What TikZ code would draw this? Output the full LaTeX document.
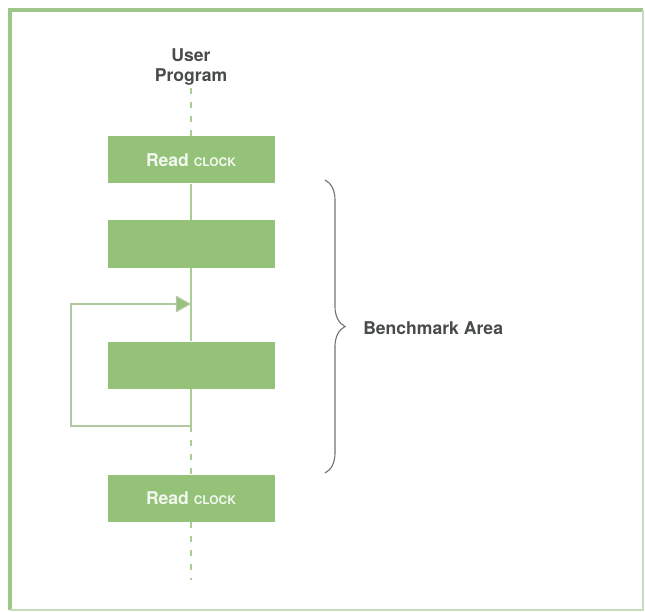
\documentclass[tikz,border=0pt]{standalone}
\usepackage{fontspec}
\setmainfont{TeX Gyre Heros}
\usepackage{tikz}
\usetikzlibrary{arrows.meta}
\usetikzlibrary{decorations.pathreplacing}
\definecolor{boxgreen}{RGB}{147,194,120}
\definecolor{linegreen}{RGB}{170,206,150}
\definecolor{loopgreen}{RGB}{176,200,160}
\definecolor{framegreen}{RGB}{158,198,138}
\definecolor{labelgray}{RGB}{72,76,72}
\tikzset{stepbox/.style={fill=boxgreen, minimum width=4.175cm, minimum height=1.175cm, text=white!88!boxgreen}}
\tikzset{flow/.style={draw=linegreen, line width=1pt}}
\tikzset{outside/.style={flow, dash pattern=on 4.5pt off 5.5pt}}
\tikzset{loopback/.style={draw=loopgreen, line width=1pt, -{Triangle[length=0.38cm, width=0.42cm, fill=boxgreen]}}}
\tikzset{bracket/.style={draw=black!55, line width=0.8pt, decorate, decoration={brace, amplitude=0.5cm}}}
\newcommand{\readclock}{Read {\fontsize{8.5}{10}\selectfont CLOCK}}

\begin{document}
\begin{tikzpicture}
	% Default action for each node
	\tikzstyle{every node}=[font=\fontsize{12.5}{14}\selectfont\bfseries, inner sep=0pt];

	\useasboundingbox (0,0) rectangle (16.125,-15.3);
	\draw[framegreen, line width=2.2pt] (0.25,-15.25) -- (0.25,-0.25) -- (16.075,-0.25);
	\draw[framegreen!60, line width=1.4pt] (16.075,-0.25) -- (16.075,-15.25) -- (0.25,-15.25);

	% PROGRAM COLUMN
	\node[text=labelgray, align=center] (prog) at (4.775,-1.675) {User\\Program};
	\coordinate (top) at (4.775,-2.2);
	\node[stepbox] (read1) at (4.775,-4.0) {\readclock};
	\node[stepbox] (work1) at (4.775,-6.1) {};
	\node[stepbox] (work2) at (4.775,-9.125) {};
	\node[stepbox] (read2) at (4.775,-12.45) {\readclock};
	\coordinate (bottom) at (4.775,-14.5);

	% LOOP
	\coordinate (loop entry) at (4.775,-7.6);	\coordinate (loop nw) at (1.775,-7.6);
	\coordinate (loop join) at (4.775,-10.65);	\coordinate (loop sw) at (1.775,-10.65);

	% BRACE
	\coordinate (brace top) at (8.125,-4.5);
	\coordinate (brace bottom) at (8.125,-11.825);
	\node[text=labelgray, anchor=west] (area) at (9.075,-8.2) {Benchmark Area};

	% Verticals
	\draw[outside] (top) -- (read1);
	\draw[flow] (read1) -- (work1) -- (work2);
	\draw[flow] (work2) -- (loop join);
	\draw[outside] (loop join) -- (read2);
	\draw[outside] (read2) -- (bottom);

	% Loop back
	\draw[loopback] (loop join) -- (loop sw) -- (loop nw) -- (loop entry);

	\draw[bracket] (brace top) -- (brace bottom);
\end{tikzpicture}
\end{document}
